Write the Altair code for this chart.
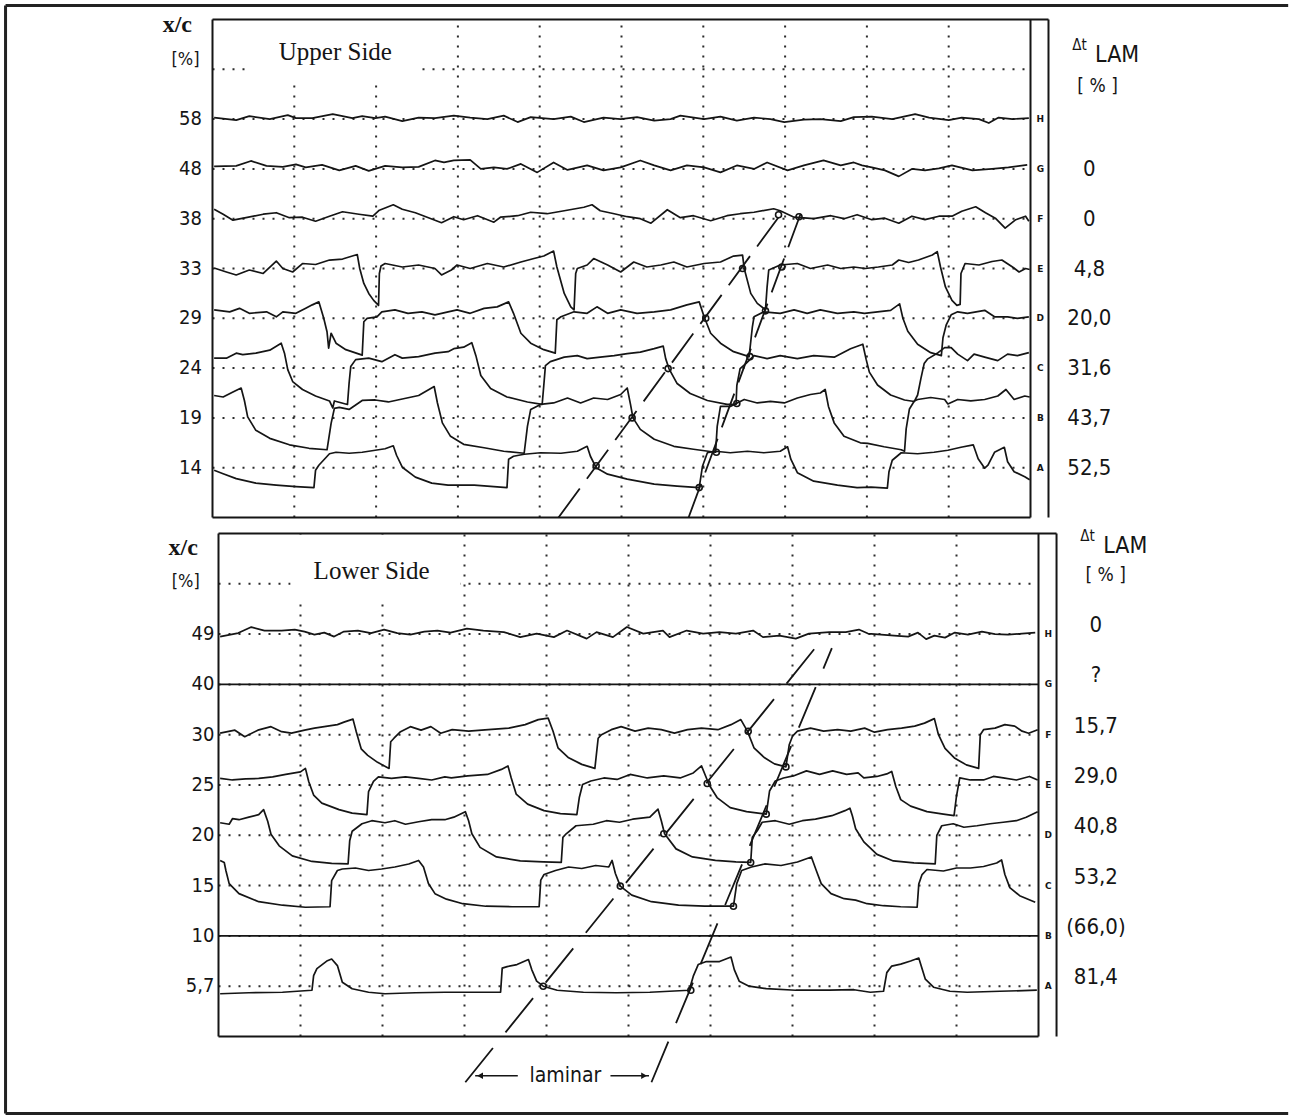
import altair as alt
import pandas as pd

# ------------------------------------------------------------------ data
CHANNELS = ["A", "B", "C", "D", "E", "F", "G", "H"]
UP_XC = ["14", "19", "24", "29", "33", "38", "48", "58"]
UP_DT = ["52,5", "43,7", "31,6", "20,0", "4,8", "0", "0", ""]
LO_XC = ["5,7", "10", "15", "20", "25", "30", "40", "49"]
LO_DT = ["81,4", "(66,0)", "53,2", "40,8", "29,0", "15,7", "?", "0"]

# ---- upper side traces (time in divisions, signal in divisions)
U_H_T = [0.02, 0.29, 0.45, 0.70, 0.92, 1.02, 1.22, 1.47, 1.71, 1.83, 1.99, 2.11, 2.32, 2.52, 2.72, 2.95, 3.15, 3.36, 3.56, 3.73, 3.89, 4.17, 4.38, 4.54, 4.78, 4.99, 5.19, 5.40, 5.60, 5.72, 6.01, 6.21, 6.41, 6.62, 6.82, 6.99, 7.23, 7.43, 7.68, 7.84, 8.06, 8.31, 8.59, 8.76, 9.0, 9.16, 9.37, 9.49, 9.61, 9.78, 9.98]
U_H_V = [8.03, 7.98, 8.06, 8.00, 8.08, 8.02, 8.02, 8.10, 8.02, 8.06, 8.02, 8.05, 7.96, 8.03, 8.02, 8.07, 8.03, 8.00, 8.07, 7.94, 8.04, 8.00, 8.05, 7.94, 8.03, 8.00, 8.04, 7.97, 8.00, 8.07, 8.00, 8.05, 7.97, 8.03, 8.00, 7.94, 7.99, 8.00, 7.96, 8.04, 8.05, 8.00, 8.10, 8.03, 7.98, 8.03, 8.00, 7.92, 8.03, 8.00, 8.02]

U_G_T = [0.02, 0.29, 0.47, 0.66, 0.86, 1.02, 1.14, 1.34, 1.55, 1.75, 1.91, 2.11, 2.32, 2.52, 2.72, 2.83, 2.95, 3.15, 3.28, 3.44, 3.60, 3.77, 3.97, 4.17, 4.34, 4.58, 4.78, 4.99, 5.23, 5.40, 5.60, 5.80, 6.01, 6.21, 6.41, 6.62, 6.78, 7.03, 7.23, 7.47, 7.68, 7.84, 7.94, 8.06, 8.22, 8.39, 8.55, 8.71, 8.88, 9.04, 9.29, 9.53, 9.73, 9.96]
U_G_V = [7.05, 7.06, 7.16, 7.06, 7.04, 7.09, 7.03, 7.08, 6.97, 7.06, 6.96, 7.06, 7.03, 7.04, 7.17, 7.13, 7.17, 7.18, 7.00, 7.03, 7.00, 7.10, 6.93, 7.13, 6.98, 7.07, 6.97, 7.03, 7.17, 7.07, 6.97, 7.07, 7.03, 6.93, 7.07, 7.00, 7.13, 6.97, 7.07, 7.17, 7.07, 7.13, 7.07, 7.03, 6.97, 6.85, 7.00, 6.97, 7.01, 7.07, 6.97, 7.00, 7.03, 7.08]

U_F_T = [0.02, 0.13, 0.25, 0.41, 0.62, 0.78, 0.94, 1.10, 1.26, 1.43, 1.59, 1.79, 1.96, 2.04, 2.21, 2.32, 2.48, 2.64, 2.80, 2.95, 3.07, 3.24, 3.44, 3.52, 3.73, 3.89, 4.09, 4.30, 4.54, 4.64, 4.74, 4.91, 5.07, 5.23, 5.36, 5.56, 5.72, 5.88, 6.09, 6.29, 6.45, 6.62, 6.86, 6.94, 7.11, 7.35, 7.56, 7.72, 7.88, 8.06, 8.22, 8.39, 8.55, 8.71, 8.88, 9.04, 9.16, 9.33, 9.45, 9.57, 9.69, 9.82, 9.94, 9.98]
U_F_V = [6.19, 6.09, 5.97, 6.02, 6.09, 6.12, 6.02, 6.03, 5.95, 6.05, 6.14, 6.09, 6.05, 6.17, 6.28, 6.19, 6.12, 6.02, 5.92, 6.04, 5.98, 6.06, 5.93, 6.03, 6.06, 6.13, 6.10, 6.16, 6.23, 6.28, 6.16, 6.10, 6.04, 6.00, 5.91, 6.18, 6.02, 6.06, 5.96, 6.06, 6.10, 6.13, 6.20, 6.16, 6.03, 6.00, 6.06, 6.00, 6.08, 5.98, 6.01, 5.91, 6.05, 5.98, 6.05, 6.05, 6.15, 6.24, 6.12, 6.01, 5.81, 5.98, 6.05, 5.95]

U_E_T = [0.02, 0.17, 0.29, 0.45, 0.62, 0.78, 0.86, 0.98, 1.10, 1.26, 1.43, 1.59, 1.77, 1.80, 1.85, 1.91, 1.97, 2.03, 2.04, 2.06, 2.11, 2.32, 2.52, 2.72, 2.80, 2.92, 2.99, 3.15, 3.36, 3.56, 3.77, 3.93, 4.05, 4.17, 4.21, 4.30, 4.38, 4.42, 4.44, 4.46, 4.58, 4.66, 4.83, 4.99, 5.15, 5.31, 5.48, 5.64, 5.80, 6.01, 6.21, 6.37, 6.48, 6.50, 6.58, 6.66, 6.76, 6.78, 6.80, 6.94, 7.15, 7.31, 7.52, 7.68, 7.84, 7.98, 8.14, 8.31, 8.39, 8.51, 8.63, 8.80, 8.86, 8.90, 8.96, 9.04, 9.10, 9.14, 9.15, 9.20, 9.37, 9.53, 9.65, 9.78, 9.86, 9.94, 9.99]
U_E_V = [5.01, 4.93, 4.87, 4.97, 4.90, 5.15, 5.00, 4.93, 5.10, 5.08, 5.17, 5.19, 5.28, 5.00, 4.70, 4.50, 4.36, 4.26, 4.90, 5.05, 5.10, 5.03, 5.07, 5.00, 4.87, 4.97, 5.07, 5.00, 5.10, 5.03, 5.13, 5.20, 5.25, 5.35, 5.03, 4.50, 4.23, 4.17, 4.90, 5.00, 5.07, 5.20, 5.07, 4.93, 5.13, 5.03, 5.07, 5.13, 5.03, 5.10, 5.13, 5.25, 5.27, 5.00, 4.50, 4.30, 4.17, 4.63, 4.97, 5.07, 5.10, 5.00, 5.07, 5.00, 5.03, 5.00, 5.03, 5.07, 5.17, 5.12, 5.17, 5.27, 5.34, 5.03, 4.63, 4.36, 4.26, 4.28, 4.90, 5.10, 5.07, 5.14, 5.17, 5.03, 4.93, 5.00, 4.98]

U_D_T = [0.02, 0.21, 0.33, 0.45, 0.66, 0.78, 0.86, 1.02, 1.14, 1.22, 1.30, 1.36, 1.40, 1.42, 1.45, 1.51, 1.63, 1.83, 1.85, 1.89, 2.01, 2.07, 2.23, 2.39, 2.56, 2.72, 2.88, 2.99, 3.15, 3.32, 3.48, 3.62, 3.68, 3.77, 3.89, 4.05, 4.19, 4.21, 4.26, 4.42, 4.58, 4.70, 4.83, 4.99, 5.19, 5.40, 5.60, 5.80, 5.95, 6.01, 6.09, 6.21, 6.37, 6.56, 6.60, 6.62, 6.74, 6.94, 7.11, 7.27, 7.43, 7.64, 7.84, 7.97, 8.13, 8.29, 8.40, 8.44, 8.50, 8.62, 8.78, 8.91, 8.93, 8.97, 9.03, 9.11, 9.23, 9.44, 9.56, 9.72, 9.84, 9.98]
U_D_V = [4.17, 4.13, 4.20, 4.10, 4.13, 4.03, 4.13, 4.10, 4.20, 4.27, 4.33, 4.00, 3.73, 3.40, 3.70, 3.50, 3.37, 3.26, 3.93, 4.00, 4.03, 4.13, 4.17, 4.10, 4.13, 4.07, 4.13, 4.17, 4.10, 4.20, 4.23, 4.33, 4.10, 3.70, 3.50, 3.37, 3.30, 3.97, 4.03, 4.13, 4.10, 4.23, 4.10, 4.17, 4.10, 4.13, 4.17, 4.27, 4.33, 4.03, 3.70, 3.50, 3.33, 3.23, 3.83, 4.03, 4.13, 4.10, 4.17, 4.10, 4.17, 4.10, 4.13, 4.10, 4.13, 4.16, 4.29, 4.00, 3.74, 3.48, 3.31, 3.25, 3.61, 3.87, 4.07, 4.13, 4.10, 4.16, 4.03, 4.03, 4.00, 4.03]

U_C_T = [0.02, 0.17, 0.29, 0.37, 0.53, 0.70, 0.84, 0.88, 0.92, 0.98, 1.10, 1.26, 1.43, 1.47, 1.49, 1.65, 1.67, 1.69, 1.75, 1.91, 2.07, 2.23, 2.32, 2.52, 2.72, 2.88, 2.95, 3.07, 3.17, 3.22, 3.28, 3.40, 3.60, 3.85, 4.03, 4.05, 4.07, 4.13, 4.30, 4.46, 4.58, 4.74, 4.91, 5.07, 5.23, 5.40, 5.51, 5.54, 5.58, 5.68, 5.84, 6.05, 6.29, 6.40, 6.41, 6.45, 6.52, 6.62, 6.78, 6.94, 7.15, 7.35, 7.60, 7.80, 7.95, 7.99, 8.03, 8.13, 8.29, 8.46, 8.58, 8.62, 8.66, 8.70, 8.74, 8.87, 8.95, 9.03, 9.11, 9.23, 9.31, 9.44, 9.60, 9.72, 9.84, 9.98]
U_C_V = [3.20, 3.20, 3.30, 3.27, 3.30, 3.36, 3.50, 3.30, 2.97, 2.73, 2.57, 2.44, 2.34, 2.20, 2.34, 2.27, 2.70, 3.03, 3.17, 3.20, 3.13, 3.27, 3.20, 3.23, 3.30, 3.33, 3.39, 3.42, 3.51, 3.25, 2.85, 2.59, 2.42, 2.32, 2.27, 2.65, 3.05, 3.13, 3.22, 3.25, 3.19, 3.22, 3.25, 3.29, 3.32, 3.39, 3.44, 3.19, 2.99, 2.69, 2.49, 2.35, 2.27, 2.27, 2.65, 2.99, 3.09, 3.25, 3.19, 3.25, 3.19, 3.25, 3.22, 3.39, 3.48, 3.18, 2.92, 2.66, 2.46, 2.36, 2.33, 2.46, 2.79, 3.09, 3.18, 3.31, 3.41, 3.41, 3.28, 3.15, 3.28, 3.22, 3.15, 3.28, 3.25, 3.31]

U_B_T = [0.02, 0.13, 0.25, 0.35, 0.39, 0.43, 0.53, 0.70, 0.94, 1.18, 1.40, 1.45, 1.49, 1.55, 1.67, 1.83, 1.99, 2.15, 2.32, 2.52, 2.71, 2.75, 2.81, 2.91, 3.07, 3.32, 3.56, 3.81, 3.85, 3.89, 4.01, 4.17, 4.34, 4.50, 4.66, 4.83, 4.99, 5.07, 5.11, 5.14, 5.23, 5.40, 5.64, 5.88, 6.15, 6.17, 6.21, 6.33, 6.50, 6.66, 6.82, 6.99, 7.15, 7.31, 7.43, 7.49, 7.53, 7.60, 7.72, 7.92, 8.01, 8.21, 8.42, 8.46, 8.48, 8.52, 8.58, 8.62, 8.78, 8.95, 8.99, 9.11, 9.27, 9.44, 9.60, 9.70, 9.80, 9.93, 9.99]
U_B_V = [2.45, 2.42, 2.52, 2.60, 2.35, 2.02, 1.75, 1.59, 1.46, 1.39, 1.36, 1.89, 2.19, 2.21, 2.17, 2.35, 2.36, 2.32, 2.38, 2.45, 2.63, 2.30, 1.90, 1.63, 1.47, 1.40, 1.33, 1.29, 1.83, 2.17, 2.27, 2.30, 2.40, 2.30, 2.40, 2.37, 2.47, 2.60, 2.27, 2.00, 1.77, 1.57, 1.43, 1.37, 1.31, 1.83, 2.23, 2.23, 2.37, 2.30, 2.33, 2.30, 2.40, 2.47, 2.50, 2.57, 2.23, 1.90, 1.63, 1.50, 1.49, 1.42, 1.36, 1.33, 1.78, 2.18, 2.34, 2.37, 2.41, 2.37, 2.28, 2.37, 2.34, 2.37, 2.44, 2.57, 2.37, 2.44, 2.42]

U_A_T = [0.02, 0.13, 0.29, 0.53, 0.78, 1.02, 1.24, 1.26, 1.30, 1.43, 1.51, 1.67, 1.83, 1.99, 2.11, 2.21, 2.25, 2.32, 2.48, 2.68, 2.88, 3.20, 3.60, 3.62, 3.68, 3.81, 4.01, 4.26, 4.46, 4.58, 4.62, 4.69, 4.83, 5.07, 5.40, 5.68, 5.95, 5.99, 6.05, 6.15, 6.33, 6.54, 6.74, 6.94, 7.03, 7.07, 7.15, 7.35, 7.64, 7.88, 8.05, 8.25, 8.27, 8.31, 8.42, 8.62, 8.82, 8.99, 9.15, 9.30, 9.36, 9.44, 9.48, 9.56, 9.68, 9.72, 9.80, 9.93, 9.99]
U_A_V = [0.95, 0.88, 0.78, 0.69, 0.65, 0.62, 0.60, 0.95, 1.05, 1.28, 1.31, 1.29, 1.31, 1.35, 1.38, 1.44, 1.25, 1.01, 0.81, 0.69, 0.65, 0.65, 0.60, 1.17, 1.23, 1.27, 1.30, 1.29, 1.33, 1.43, 1.23, 1.00, 0.87, 0.77, 0.67, 0.63, 0.60, 1.03, 1.30, 1.33, 1.30, 1.33, 1.30, 1.33, 1.42, 1.17, 0.90, 0.73, 0.65, 0.60, 0.61, 0.59, 0.92, 1.15, 1.30, 1.28, 1.31, 1.35, 1.41, 1.46, 1.18, 0.99, 1.05, 1.31, 1.41, 1.12, 0.92, 0.82, 0.76]

# ---- lower side traces
L_H_T = [0.02, 0.24, 0.40, 0.56, 0.77, 0.93, 1.05, 1.17, 1.29, 1.41, 1.53, 1.70, 1.86, 2.02, 2.18, 2.34, 2.51, 2.67, 2.83, 3.03, 3.23, 3.48, 3.68, 3.88, 4.09, 4.25, 4.49, 4.61, 4.81, 4.98, 5.18, 5.42, 5.50, 5.71, 5.91, 6.11, 6.31, 6.52, 6.64, 6.84, 7.04, 7.20, 7.45, 7.65, 7.81, 7.92, 8.08, 8.24, 8.41, 8.53, 8.63, 8.73, 8.86, 8.98, 9.14, 9.31, 9.47, 9.63, 9.80, 9.96]
L_H_V = [7.95, 8.02, 8.14, 8.07, 8.07, 8.09, 8.05, 7.99, 8.03, 7.95, 8.05, 8.07, 8.02, 8.09, 8.02, 7.99, 8.05, 8.07, 8.03, 8.11, 8.07, 8.04, 7.94, 8.01, 7.94, 8.07, 7.91, 8.04, 7.94, 8.14, 8.01, 8.07, 7.94, 8.07, 8.01, 8.04, 8.01, 8.07, 7.94, 7.97, 7.91, 8.01, 8.04, 8.04, 8.09, 8.01, 7.99, 7.97, 7.95, 8.03, 7.90, 7.97, 7.93, 8.03, 7.99, 8.05, 8.00, 7.99, 8.01, 8.03]

L_G_T = [0.0, 10.0]
L_G_V = [7.0, 7.0]

L_F_T = [0.02, 0.20, 0.32, 0.48, 0.64, 0.77, 0.89, 1.05, 1.17, 1.29, 1.45, 1.53, 1.64, 1.68, 1.74, 1.82, 1.94, 2.08, 2.10, 2.14, 2.22, 2.34, 2.47, 2.59, 2.71, 2.85, 3.05, 3.29, 3.54, 3.74, 3.90, 4.02, 4.08, 4.14, 4.27, 4.43, 4.59, 4.63, 4.67, 4.79, 4.91, 5.08, 5.24, 5.40, 5.56, 5.72, 5.89, 6.09, 6.25, 6.37, 6.45, 6.53, 6.66, 6.78, 6.92, 6.96, 7.00, 7.06, 7.22, 7.38, 7.55, 7.71, 7.88, 8.00, 8.16, 8.33, 8.49, 8.61, 8.73, 8.78, 8.86, 8.98, 9.12, 9.27, 9.29, 9.33, 9.47, 9.59, 9.71, 9.80, 9.88, 9.99]
L_F_V = [6.03, 6.09, 5.96, 6.09, 6.16, 6.06, 6.03, 6.09, 6.13, 6.16, 6.20, 6.25, 6.31, 6.06, 5.72, 5.59, 5.45, 5.33, 5.86, 5.93, 6.06, 6.16, 6.09, 6.16, 6.03, 6.10, 6.07, 6.10, 6.13, 6.20, 6.30, 6.33, 6.07, 5.74, 5.54, 5.41, 5.33, 5.93, 6.00, 6.10, 6.16, 6.07, 6.13, 6.10, 6.03, 6.10, 6.13, 6.10, 6.20, 6.30, 6.07, 5.74, 5.54, 5.42, 5.36, 5.80, 5.97, 6.07, 6.13, 6.07, 6.10, 6.07, 6.13, 6.05, 6.10, 6.13, 6.17, 6.23, 6.32, 6.00, 5.73, 5.53, 5.40, 5.33, 6.00, 6.10, 6.13, 6.20, 6.17, 6.07, 6.03, 6.10]

L_E_T = [0.02, 0.17, 0.33, 0.49, 0.66, 0.82, 1.00, 1.06, 1.10, 1.16, 1.26, 1.47, 1.63, 1.81, 1.83, 1.89, 1.95, 2.11, 2.28, 2.44, 2.60, 2.76, 2.84, 3.04, 3.28, 3.45, 3.53, 3.57, 3.63, 3.77, 3.97, 4.17, 4.37, 4.40, 4.44, 4.54, 4.70, 4.86, 5.02, 5.23, 5.43, 5.63, 5.79, 5.89, 5.95, 5.98, 6.08, 6.24, 6.44, 6.68, 6.72, 6.79, 6.89, 7.01, 7.17, 7.33, 7.49, 7.66, 7.80, 7.87, 8.03, 8.15, 8.21, 8.26, 8.32, 8.44, 8.64, 8.84, 8.97, 9.00, 9.04, 9.17, 9.33, 9.45, 9.57, 9.73, 9.89, 9.99]
L_E_V = [5.13, 5.10, 5.12, 5.13, 5.16, 5.21, 5.26, 5.33, 5.07, 4.80, 4.64, 4.51, 4.44, 4.41, 4.87, 5.07, 5.16, 5.13, 5.16, 5.13, 5.10, 5.16, 5.14, 5.18, 5.21, 5.31, 5.38, 5.14, 4.82, 4.62, 4.49, 4.43, 4.41, 4.75, 5.01, 5.08, 5.14, 5.11, 5.21, 5.14, 5.18, 5.14, 5.24, 5.38, 5.14, 5.01, 4.75, 4.55, 4.47, 4.42, 4.88, 5.08, 5.14, 5.18, 5.28, 5.21, 5.28, 5.21, 5.24, 5.14, 5.17, 5.22, 5.27, 4.97, 4.71, 4.58, 4.47, 4.42, 4.39, 4.78, 5.14, 5.10, 5.10, 5.17, 5.14, 5.10, 5.17, 5.10]

L_D_T = [0.02, 0.13, 0.17, 0.25, 0.37, 0.49, 0.55, 0.60, 0.64, 0.74, 0.90, 1.14, 1.38, 1.58, 1.60, 1.63, 1.75, 1.87, 2.03, 2.15, 2.28, 2.44, 2.60, 2.76, 2.87, 3.01, 3.05, 3.09, 3.19, 3.39, 3.68, 3.96, 4.18, 4.20, 4.24, 4.36, 4.57, 4.73, 4.89, 5.05, 5.26, 5.36, 5.40, 5.44, 5.58, 5.78, 6.06, 6.31, 6.49, 6.51, 6.57, 6.63, 6.79, 6.96, 7.12, 7.28, 7.48, 7.64, 7.70, 7.73, 7.77, 7.87, 8.03, 8.23, 8.48, 8.74, 8.76, 8.82, 8.96, 9.09, 9.25, 9.41, 9.57, 9.73, 9.85, 9.99]
L_D_V = [4.25, 4.22, 4.33, 4.31, 4.36, 4.41, 4.51, 4.28, 4.02, 3.79, 3.59, 3.48, 3.44, 3.43, 3.89, 4.08, 4.23, 4.29, 4.25, 4.29, 4.22, 4.27, 4.31, 4.31, 4.36, 4.47, 4.29, 4.03, 3.76, 3.57, 3.49, 3.47, 3.46, 3.96, 4.03, 4.19, 4.22, 4.29, 4.26, 4.32, 4.36, 4.52, 4.29, 4.03, 3.73, 3.57, 3.50, 3.47, 3.46, 3.96, 4.09, 4.26, 4.29, 4.22, 4.29, 4.32, 4.39, 4.49, 4.54, 4.39, 4.13, 3.87, 3.62, 3.49, 3.45, 3.43, 4.00, 4.19, 4.23, 4.16, 4.19, 4.23, 4.26, 4.29, 4.36, 4.47]

L_C_T = [0.02, 0.07, 0.09, 0.13, 0.25, 0.49, 0.78, 1.06, 1.36, 1.38, 1.45, 1.51, 1.67, 1.83, 1.99, 2.15, 2.32, 2.44, 2.50, 2.56, 2.64, 2.78, 2.98, 3.26, 3.58, 3.91, 3.93, 3.97, 4.11, 4.27, 4.43, 4.60, 4.76, 4.80, 4.84, 4.90, 5.04, 5.28, 5.61, 5.93, 6.28, 6.32, 6.38, 6.50, 6.66, 6.86, 7.06, 7.23, 7.29, 7.35, 7.47, 7.63, 7.77, 7.91, 8.11, 8.32, 8.52, 8.54, 8.58, 8.64, 8.84, 9.00, 9.17, 9.33, 9.49, 9.55, 9.59, 9.65, 9.77, 9.96]
L_C_V = [3.50, 3.46, 3.30, 3.04, 2.84, 2.68, 2.61, 2.57, 2.58, 3.10, 3.30, 3.33, 3.35, 3.30, 3.33, 3.37, 3.43, 3.50, 3.37, 3.04, 2.84, 2.73, 2.64, 2.59, 2.58, 2.58, 3.11, 3.22, 3.30, 3.37, 3.34, 3.40, 3.37, 3.50, 3.24, 2.99, 2.81, 2.68, 2.61, 2.59, 2.59, 3.04, 3.30, 3.37, 3.43, 3.40, 3.47, 3.57, 3.30, 3.04, 2.84, 2.74, 2.71, 2.64, 2.60, 2.58, 2.57, 3.03, 3.22, 3.32, 3.29, 3.35, 3.35, 3.38, 3.45, 3.51, 3.22, 2.96, 2.80, 2.67]

L_B_T = [0.0, 10.0]
L_B_V = [2.0, 2.0]

L_A_T = [0.02, 0.37, 0.78, 1.14, 1.16, 1.20, 1.32, 1.38, 1.45, 1.51, 1.63, 1.83, 2.03, 2.40, 2.76, 2.99, 3.44, 3.46, 3.52, 3.64, 3.78, 3.82, 3.88, 3.96, 4.13, 4.45, 4.85, 5.26, 5.74, 5.79, 5.85, 5.95, 6.11, 6.25, 6.29, 6.35, 6.47, 6.68, 7.04, 7.45, 7.75, 7.95, 8.11, 8.15, 8.21, 8.32, 8.44, 8.54, 8.57, 8.62, 8.72, 8.92, 9.13, 9.53, 9.98]
L_A_V = [0.85, 0.87, 0.88, 0.92, 1.21, 1.35, 1.50, 1.54, 1.41, 1.08, 0.95, 0.88, 0.85, 0.87, 0.88, 0.88, 0.88, 1.36, 1.39, 1.43, 1.53, 1.33, 1.10, 1.00, 0.92, 0.88, 0.87, 0.88, 0.92, 1.20, 1.43, 1.49, 1.49, 1.58, 1.33, 1.10, 1.00, 0.95, 0.92, 0.92, 0.93, 0.88, 0.90, 1.27, 1.40, 1.44, 1.50, 1.56, 1.40, 1.14, 0.98, 0.90, 0.88, 0.90, 0.92]

# ---- transition fronts (dashed) and marked points
U_FRONT_LEFT_T = [4.23, 6.96]
U_FRONT_LEFT_V = [0.0, 6.12]
U_FRONT_RIGHT_T = [5.82, 7.19]
U_FRONT_RIGHT_V = [0.0, 6.10]
L_FRONT_LEFT_T = [3.01, 7.27]
L_FRONT_LEFT_V = [-0.91, 7.71]
L_FRONT_RIGHT_T = [5.28, 7.48]
L_FRONT_RIGHT_V = [-0.91, 7.72]

U_MARK_T = [4.69, 5.13, 5.57, 6.03, 6.48, 6.92, 5.95, 6.16, 6.41, 6.57, 6.76, 6.96, 7.17]
U_MARK_V = [1.04, 2.00, 2.99, 4.00, 5.00, 6.08, 0.60, 1.31, 2.29, 3.23, 4.15, 5.03, 6.04]
L_MARK_T = [3.96, 4.90, 5.43, 5.96, 6.46, 5.76, 6.28, 6.49, 6.68, 6.92]
L_MARK_V = [1.00, 2.99, 4.03, 5.03, 6.07, 0.92, 2.59, 3.46, 4.42, 5.36]

# ------------------------------------------------------------------ style
INK = "#151515"
SANS = "DejaVu Sans Condensed, DejaVu Sans, sans-serif"
SERIF = "Liberation Serif, Times New Roman, serif"


def traces_df(traces):
    rows = []
    for name, (ts, vs) in traces.items():
        n = min(len(ts), len(vs))
        for i in range(n):
            rows.append({"trace": name, "t": ts[i], "v": vs[i], "i": i})
    return pd.DataFrame(rows)


def build_panel(traces, fronts, mark_t, mark_v, xc, dt, g):
    xs = alt.Scale(domain=g["xdom"], nice=False, zero=False)
    ys = alt.Scale(domain=[0, 10], nice=False, zero=False)

    def X(f):
        return alt.X(f, type="quantitative", scale=xs, axis=None)

    def Y(f):
        return alt.Y(f, type="quantitative", scale=ys, axis=None)

    def rules(df, **kw):
        return alt.Chart(df).mark_rule(**kw).encode(
            x=X("x"), x2=alt.X2("x2"), y=Y("y"), y2=alt.Y2("y2"))

    def texts(df, **kw):
        return alt.Chart(df).mark_text(**kw).encode(
            x=X("x"), y=Y("y"), text=alt.Text("label:N"))

    layers = []
    # dotted grid
    grid = [{"x": k, "x2": k, "y": 0, "y2": 10} for k in range(1, 10)]
    grid += [{"x": 0, "x2": 10, "y": k, "y2": k} for k in range(1, 10)]
    layers.append(rules(pd.DataFrame(grid), color=INK, strokeWidth=2,
                        strokeDash=[2, 8], opacity=0.9))
    # white patch behind the panel title
    layers.append(alt.Chart(pd.DataFrame([g["patch"]])).mark_rect(color="white").encode(
        x=X("x"), x2=alt.X2("x2"), y=Y("y"), y2=alt.Y2("y2")))
    # frames
    frame = [
        {"x": 0, "x2": 0, "y": 0, "y2": 10},
        {"x": 0, "x2": 10, "y": 0, "y2": 0},
        {"x": 10, "x2": 10, "y": 0, "y2": 10},
        {"x": 0, "x2": 10.22, "y": 10, "y2": 10},
        {"x": 10.22, "x2": 10.22, "y": 0, "y2": 10},
    ]
    layers.append(rules(pd.DataFrame(frame), color=INK, strokeWidth=2))
    if g.get("border"):
        layers.append(rules(pd.DataFrame(g["border"]), color="#222", strokeWidth=3))
    # traces
    layers.append(alt.Chart(traces_df(traces)).mark_line(
        color=INK, strokeWidth=1.7, strokeJoin="round").encode(
        x=X("t"), y=Y("v"), detail="trace:N", order=alt.Order("i:Q")))
    # transition fronts
    layers.append(alt.Chart(traces_df(fronts)).mark_line(
        color=INK, strokeWidth=1.8, strokeDash=g["dash"]).encode(
        x=X("t"), y=Y("v"), detail="trace:N", order=alt.Order("i:Q")))
    layers.append(alt.Chart(pd.DataFrame({"t": mark_t, "v": mark_v})).mark_point(
        shape="circle", filled=False, size=36, strokeWidth=1.6, color=INK, opacity=1).encode(
        x=X("t"), y=Y("v")))
    # left x/c labels
    rows = list(range(1, 9))
    layers.append(texts(pd.DataFrame({"x": [g["xc_x"]] * 8, "y": rows, "label": xc}),
                        align="right", baseline="middle", font=SANS, fontSize=20, color=INK))
    # channel letters
    layers.append(texts(pd.DataFrame({"x": [10.12] * 8, "y": rows, "label": CHANNELS}),
                        align="center", baseline="middle", font="DejaVu Sans", fontSize=9,
                        fontWeight="bold", color=INK))
    # laminar time fractions
    layers.append(texts(pd.DataFrame({"x": [g["dt_x"]] * 8, "y": rows, "label": dt}),
                        align="center", baseline="middle", font=SANS, fontSize=22,
                        color=INK, dy=g["dt_dy"]))
    # headers
    h = g["head"]
    layers.append(texts(pd.DataFrame([{"x": h["xc"][0], "y": h["xc"][1], "label": "x/c"}]),
                        align="center", baseline="middle", font=SERIF, fontSize=24,
                        fontWeight="bold", color=INK))
    layers.append(texts(pd.DataFrame([{"x": h["pct"][0], "y": h["pct"][1], "label": "[%]"}]),
                        align="center", baseline="middle", font=SANS, fontSize=18, color=INK))
    layers.append(texts(pd.DataFrame([{"x": h["title"][0], "y": h["title"][1], "label": g["title"]}]),
                        align="left", baseline="middle", font=SERIF, fontSize=25, color=INK))
    layers.append(texts(pd.DataFrame([{"x": h["dt"][0], "y": h["dt"][1], "label": "\u0394t"}]),
                        align="left", baseline="alphabetic", font=SANS, fontSize=15, color=INK))
    layers.append(texts(pd.DataFrame([{"x": h["lam"][0], "y": h["lam"][1], "label": "LAM"}]),
                        align="left", baseline="alphabetic", font=SANS, fontSize=23, color=INK))
    layers.append(texts(pd.DataFrame([{"x": h["rpct"][0], "y": h["rpct"][1], "label": "[ % ]"}]),
                        align="center", baseline="middle", font=SANS, fontSize=19, color=INK))
    if g.get("laminar"):
        lm = g["laminar"]
        layers.append(rules(pd.DataFrame(lm["shafts"]), color=INK, strokeWidth=1.6))
        layers.append(alt.Chart(pd.DataFrame(lm["heads"])).mark_point(
            filled=True, size=45, color=INK, opacity=1).encode(
            x=X("x"), y=Y("y"), shape=alt.Shape("shape:N", scale=None)))
        layers.append(texts(pd.DataFrame([{"x": lm["text"][0], "y": lm["text"][1], "label": "laminar"}]),
                            align="center", baseline="middle", font=SANS, fontSize=21, color=INK))
    return alt.layer(*layers).properties(width=g["w"], height=g["h"])


upper_traces = {
    "H": (U_H_T, U_H_V), "G": (U_G_T, U_G_V), "F": (U_F_T, U_F_V), "E": (U_E_T, U_E_V),
    "D": (U_D_T, U_D_V), "C": (U_C_T, U_C_V), "B": (U_B_T, U_B_V), "A": (U_A_T, U_A_V),
}
lower_traces = {
    "H": (L_H_T, L_H_V), "G": (L_G_T, L_G_V), "F": (L_F_T, L_F_V), "E": (L_E_T, L_E_V),
    "D": (L_D_T, L_D_V), "C": (L_C_T, L_C_V), "B": (L_B_T, L_B_V), "A": (L_A_T, L_A_V),
}
upper_fronts = {"l": (U_FRONT_LEFT_T, U_FRONT_LEFT_V), "r": (U_FRONT_RIGHT_T, U_FRONT_RIGHT_V)}
lower_fronts = {"l": (L_FRONT_LEFT_T, L_FRONT_LEFT_V), "r": (L_FRONT_RIGHT_T, L_FRONT_RIGHT_V)}

upper_geom = {
    "xdom": [0, 10], "w": 818, "h": 498, "dash": [36, 12],
    "patch": {"x": 0.46, "x2": 2.52, "y": 8.78, "y2": 9.97},
    "xc_x": -0.13, "dt_x": 10.72, "dt_dy": 0, "title": "Upper Side",
    "head": {"xc": (-0.43, 9.88), "pct": (-0.33, 9.18), "title": (0.81, 9.34),
             "dt": (10.51, 9.38), "lam": (10.79, 9.14), "rpct": (10.82, 8.67)},
    "border": [
        {"x": -2.53, "x2": -2.53, "y": 10.28, "y2": -11.97},
        {"x": -2.53, "x2": 13.15, "y": 10.28, "y2": 10.28},
        {"x": -2.53, "x2": 13.15, "y": -11.97, "y2": -11.97},
    ],
}
lower_geom = {
    "xdom": [-0.0732, 10], "w": 826, "h": 503, "dash": [44, 20],
    "patch": {"x": 0.88, "x2": 2.95, "y": 8.67, "y2": 9.97},
    "xc_x": -0.05, "dt_x": 10.70, "dt_dy": -9, "title": "Lower Side",
    "head": {"xc": (-0.43, 9.72), "pct": (-0.40, 9.03), "title": (1.16, 9.26),
             "dt": (10.51, 9.86), "lam": (10.79, 9.62), "rpct": (10.82, 9.17)},
    "laminar": {
        "shafts": [{"x": 3.13, "x2": 3.65, "y": -0.78, "y2": -0.78},
                   {"x": 4.78, "x2": 5.25, "y": -0.78, "y2": -0.78}],
        "heads": [{"x": 3.19, "y": -0.78, "shape": "triangle-left"},
                  {"x": 5.19, "y": -0.78, "shape": "triangle-right"}],
        "text": (4.23, -0.78),
    },
}

upper = build_panel(upper_traces, upper_fronts, U_MARK_T, U_MARK_V, UP_XC, UP_DT, upper_geom)
lower = build_panel(lower_traces, lower_fronts, L_MARK_T, L_MARK_V, LO_XC, LO_DT, lower_geom)

chart = alt.VConcatChart(
    vconcat=[upper, lower], spacing=16, bounds="flush",
    padding={"left": 3.5, "top": 3.5, "right": 0, "bottom": 0},
    background="white",
).configure_view(strokeWidth=0)

chart.save("out.html", embed_options={"renderer": "svg", "actions": False})
